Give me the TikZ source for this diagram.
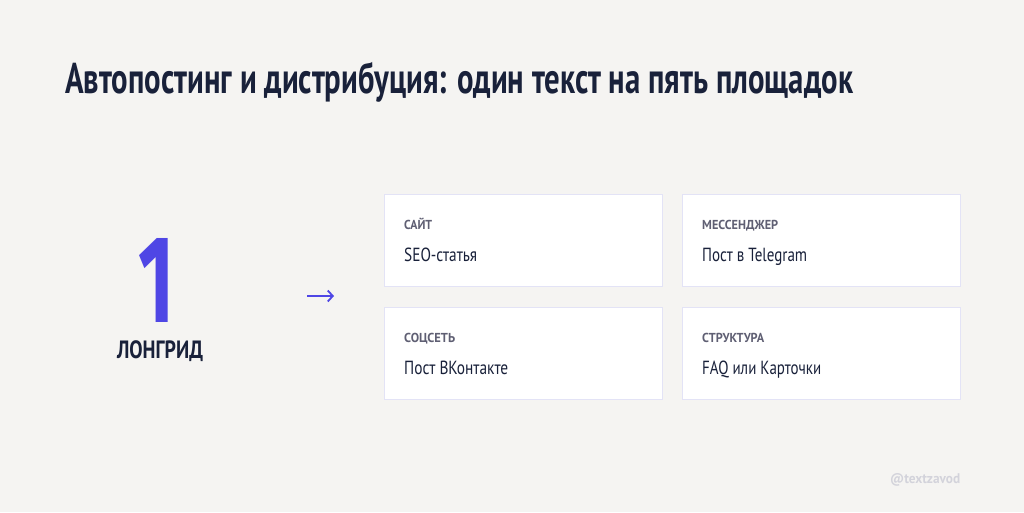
\documentclass[tikz,border=0pt]{standalone}
\usepackage{fontspec}
\usepackage{graphicx}
\setmainfont{PT Sans}
\newfontfamily\digitfont{Fira Sans}
\usetikzlibrary{calc,arrows.meta}
\definecolor{bgc}{HTML}{F5F4F2}
\definecolor{navy}{HTML}{19213A}
\definecolor{labgray}{HTML}{5F5F73}
\definecolor{cardline}{HTML}{E3E3F6}
\definecolor{indigo}{HTML}{4F46E5}
\definecolor{wmark}{HTML}{D3D3DB}
\newcommand{\fw}[2]{\resizebox{#1}{\height}{#2}}
\tikzset{
  card/.style={draw=cardline, line width=0.8pt, fill=white, anchor=north west,
    minimum width=278pt, minimum height=92pt, inner sep=0pt},
  lab/.style={anchor=base west, inner sep=0pt, text=labgray, font=\fontsize{13}{13}\selectfont\bfseries},
  main/.style={anchor=base west, inner sep=0pt, text=navy, font=\fontsize{19}{19}\selectfont},
}
\begin{document}
\begin{tikzpicture}[x=1pt,y=-1pt]
\fill[bgc] (0,0) rectangle (1024,512);
\useasboundingbox (0,0) rectangle (1024,512);
\node[anchor=base west, inner sep=0pt, text=navy, font=\fontsize{43}{43}\selectfont\bfseries] (title) at (65,93)
  {\fw{788pt}{Автопостинг и дистрибуция: один текст на пять площадок}};
\node[anchor=south, inner sep=0pt, text=indigo, font=\fontsize{20}{20}\selectfont\digitfont\bfseries] (one) at (157,323) {\resizebox{36pt}{84pt}{1}};
\node[anchor=base, inner sep=0pt, text=navy, font=\fontsize{25}{25}\selectfont\bfseries] (longrid) at (160,358) {\fw{86pt}{ЛОНГРИД}};
\coordinate (a1) at (307,296);
\coordinate (a2) at (334,296);
\draw[indigo, line width=1.8pt, -{Straight Barb[length=5pt,width=11pt,line width=1.8pt]}] (a1) -- (a2);
\node[card] (c1) at (384,194) {};
\node[card] (c2) at (682,194) {};
\node[card] (c3) at (384,307) {};
\node[card] (c4) at (682,307) {};
\node[lab] (l1) at ($(c1.north west)+(20,35)$) {\fw{28pt}{САЙТ}};
\node[main] (m1) at ($(c1.north west)+(20,67)$) {\fw{73pt}{SEO-статья}};
\node[lab] (l2) at ($(c2.north west)+(20,35)$) {\fw{76pt}{МЕССЕНДЖЕР}};
\node[main] (m2) at ($(c2.north west)+(20,67)$) {\fw{105pt}{Пост в Telegram}};
\node[lab] (l3) at ($(c3.north west)+(20,35)$) {\fw{51pt}{СОЦСЕТЬ}};
\node[main] (m3) at ($(c3.north west)+(20,67)$) {\fw{104pt}{Пост ВКонтакте}};
\node[lab] (l4) at ($(c4.north west)+(20,35)$) {\fw{62pt}{СТРУКТУРА}};
\node[main] (m4) at ($(c4.north west)+(20,67)$) {\fw{119pt}{FAQ или Карточки}};
\node[anchor=base west, inner sep=0pt, text=wmark, font=\fontsize{14}{14}\selectfont\bfseries] (wm) at (890,483) {\fw{70pt}{@textzavod}};
\end{tikzpicture}
\end{document}
